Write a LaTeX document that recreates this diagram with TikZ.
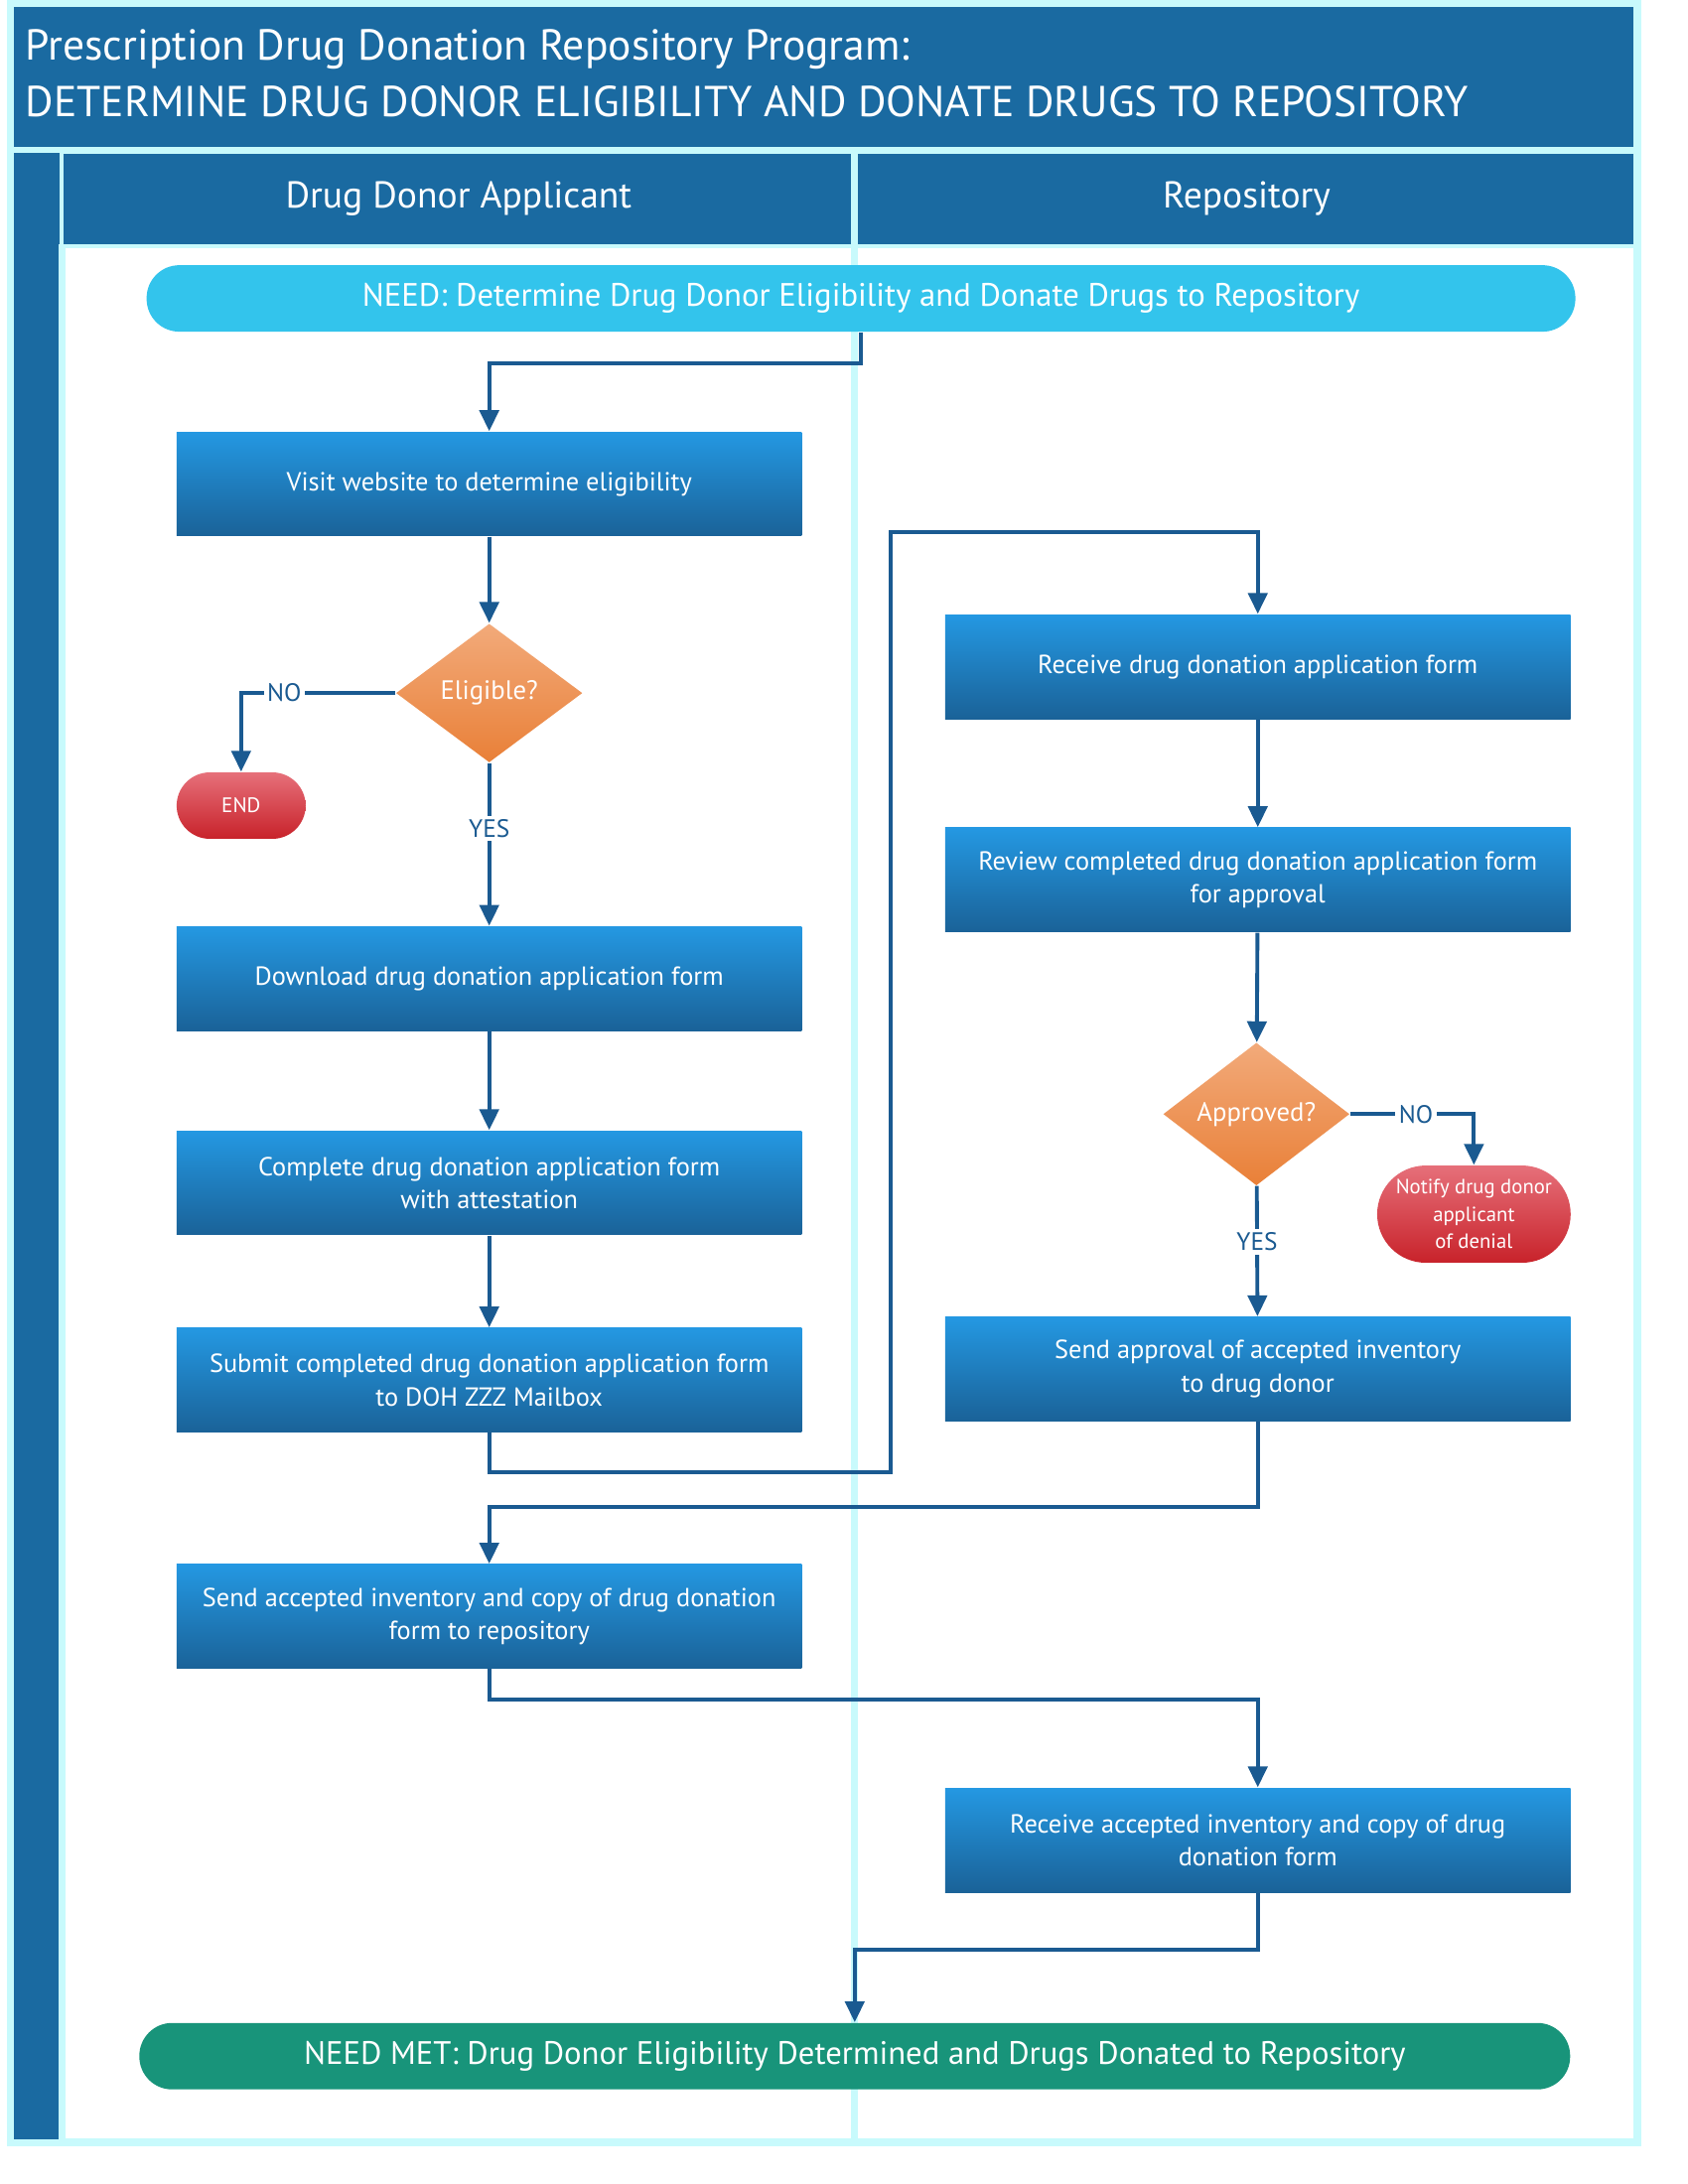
\documentclass[tikz,border=0pt]{standalone}
\usepackage{fontspec}
\setmainfont{PT Sans}
\usetikzlibrary{positioning}
\usetikzlibrary{calc}
\usetikzlibrary{shapes.geometric}
\usetikzlibrary{arrows.meta}

\definecolor{barblue}{RGB}{26,106,161}
\definecolor{framecyan}{RGB}{200,250,252}
\definecolor{needblue}{RGB}{51,196,236}
\definecolor{boxtop}{RGB}{36,152,226}
\definecolor{boxbot}{RGB}{26,98,152}
\definecolor{flowblue}{RGB}{26,90,145}
\definecolor{dectop}{RGB}{242,170,122}
\definecolor{decbot}{RGB}{233,128,56}
\definecolor{endtop}{RGB}{230,112,122}
\definecolor{endbot}{RGB}{200,34,42}
\definecolor{metgreen}{RGB}{24,148,122}

\begin{document}
\begin{tikzpicture}[x=0.014cm,y=-0.014cm,
    stepbox/.style={rectangle,top color=boxtop,bottom color=boxbot,text=white,
      minimum width=6.3cm,minimum height=1.05cm,align=center,inner sep=2pt,
      font=\fontsize{7.5}{9.5}\selectfont},
    decision/.style={diamond,top color=dectop,bottom color=decbot,text=white,
      minimum width=1.88cm,minimum height=1.4cm,inner sep=0pt,
      font=\fontsize{7.6}{9}\selectfont},
    stopper/.style={rectangle,top color=endtop,bottom color=endbot,text=white,align=center},
    pill/.style={rectangle,rounded corners=0.33cm,text=white,minimum height=0.67cm,
      font=\fontsize{9.3}{11}\selectfont},
    flow/.style={draw=flowblue,line width=1.1pt,-{Triangle[width=5.5pt,length=6pt]}},
    lbl/.style={fill=white,text=flowblue,inner sep=1pt,font=\fontsize{7.2}{8}\selectfont}]

  % page, title bar and lanes
  \fill[white] (0,0) rectangle (1214,1571);
  \fill[framecyan] (8,1) rectangle (1178,178);
  \draw[framecyan,line width=2.2pt] (8,2) rectangle (1178,1541);
  \fill[barblue] (10,4) rectangle (1175,105);
  \fill[barblue] (10,109) rectangle (43,1539);
  \fill[barblue] (46,110) rectangle (612,175);
  \fill[barblue] (617,110) rectangle (1175,175);
  \draw[framecyan,line width=2pt] (44.5,175) -- (44.5,1539);
  \draw[framecyan,line width=2pt] (615,175) -- (615,1539);

  \node[anchor=west,text=white,inner sep=0pt,font=\fontsize{12.4}{14}\selectfont] (title) at (18,35) {Prescription Drug Donation Repository Program:};
  \node[anchor=west,text=white,inner sep=0pt,font=\fontsize{12.4}{14}\selectfont] (subtitle) at (18,72) {DETERMINE DRUG DONOR ELIGIBILITY AND DONATE DRUGS TO REPOSITORY};
  \node[text=white,font=\fontsize{10.7}{12}\selectfont] (lanea) at (330,142) {Drug Donor Applicant};
  \node[text=white,font=\fontsize{10.7}{12}\selectfont] (laneb) at (897,142) {Repository};

  % start and end
  \node[pill,fill=needblue,minimum width=14.4cm] (need) at (619.5,214) {NEED: Determine Drug Donor Eligibility and Donate Drugs to Repository};
  \node[pill,fill=metgreen,minimum width=14.42cm] (needmet) at (615,1479) {NEED MET: Drug Donor Eligibility Determined and Drugs Donated to Repository};

  % applicant lane
  \node[stepbox] (visit) at (352,347.5) {Visit website to determine eligibility};
  \node[decision] (elig) at (352,498) {Eligible?};
  \node[stopper,rounded corners=0.335cm,minimum width=1.3cm,minimum height=0.67cm,
    font=\fontsize{6}{7}\selectfont] (endn) at (173.5,579) {END};
  \node[stepbox] (download) at (352,703.5) {Download drug donation application form};
  \node[stepbox] (complete) at (352,850.5) {Complete drug donation application form\\ with attestation};
  \node[stepbox] (submit) at (352,992.5) {Submit completed drug donation application form\\ to DOH ZZZ Mailbox};
  \node[stepbox] (sendinv) at (352,1162.5) {Send accepted inventory and copy of drug donation\\ form to repository};

  % repository lane
  \node[stepbox] (recv) at (905,479) {Receive drug donation application form};
  \node[stepbox] (review) at (905,632.5) {Review completed drug donation application form\\ for approval};
  \node[decision] (approved) at (904,801) {Approved?};
  \node[stopper,rounded corners=0.49cm,minimum width=1.95cm,minimum height=0.98cm,inner sep=1pt,
    font=\fontsize{5.9}{7.8}\selectfont] (notify) at (1060.5,873) {Notify drug donor\\ applicant\\ of denial};
  \node[stepbox] (sendapp) at (905,984.5) {Send approval of accepted inventory\\ to drug donor};
  \node[stepbox] (recvinv) at (905,1323.5) {Receive accepted inventory and copy of drug\\ donation form};

  \coordinate (upL) at (641,382);

  % connectors
  \draw[flow] (need.south) -- ++(0,22) -| (visit.north);
  \draw[flow] (visit) -- (elig);
  \draw[flow] (elig.west) -- node[lbl,pos=0.72] {NO} (elig.west -| endn) -- (endn.north);
  \draw[flow] (elig) -- node[lbl,pos=0.4] {YES} (download);
  \draw[flow] (download) -- (complete);
  \draw[flow] (complete) -- (submit);
  \draw[flow] (submit.south) -- ++(0,28) -| (upL) -| (recv.north);
  \draw[flow] (recv) -- (review);
  \draw[flow] (review) -- (approved);
  \draw[flow] (approved.east) -- node[lbl,pos=0.53] {NO} (approved.east -| notify) -- (notify.north);
  \draw[flow] (approved) -- node[lbl,pos=0.43] {YES} (sendapp);
  \draw[flow] (sendapp.south) -- ++(0,61) -| (sendinv.north);
  \draw[flow] (sendinv.south) -- ++(0,22) -| (recvinv.north);
  \draw[flow] (recvinv.south) -- ++(0,41) -| (needmet.north);

  \useasboundingbox (0,0) rectangle (1214,1571);
\end{tikzpicture}
\end{document}
